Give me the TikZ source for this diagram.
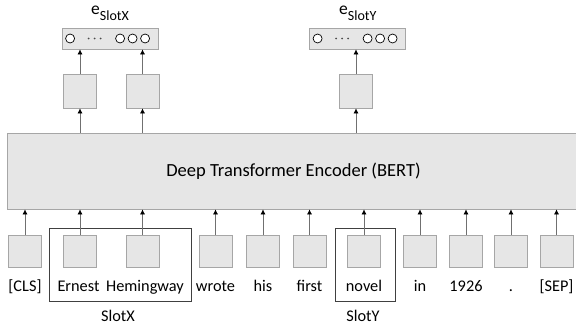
\documentclass[tikz,border=0pt]{standalone}
\usepackage{fontspec}
\setmainfont{Carlito}
\usetikzlibrary{arrows.meta,calc}
\definecolor{boxgray}{HTML}{E6E6E6}
\definecolor{bordgray}{HTML}{A6A6A6}
\definecolor{arrgray}{HTML}{707070}
\definecolor{slotcol}{HTML}{404040}
\tikzset{
  tok/.style={draw=bordgray, fill=boxgray, line width=0.8pt, minimum width=33pt, minimum height=32pt, inner sep=0pt},
  upbox/.style={draw=bordgray, fill=boxgray, line width=0.8pt, minimum width=33pt, minimum height=34pt, inner sep=0pt},
  vecbox/.style={draw=bordgray, fill=boxgray, line width=0.8pt, minimum width=96pt, minimum height=21pt, inner sep=0pt},
  enc/.style={draw=bordgray, fill=boxgray, line width=0.8pt, minimum width=573pt, minimum height=76pt, inner sep=0pt, font=\fontsize{18.5}{22}\selectfont},
  slotbox/.style={draw=slotcol, line width=1pt, inner sep=0pt},
  arr/.style={draw=arrgray, line width=0.6pt, -{Latex[length=5pt,width=5pt,color=black]}},
  lbl/.style={anchor=base, inner sep=0pt, font=\fontsize{16.3}{20}\selectfont},
  circ/.style={draw=black, line width=0.7pt, fill=white},
  dotm/.style={fill=black!70, draw=none},
  elbl/.style={anchor=base west, inner sep=0pt, font=\fontsize{17.5}{20}\selectfont}
}
\newcommand{\vecdots}[1]{%
  \draw[circ] ($(#1.west)+(8.5,0)$) circle (4.5pt);
  \fill[dotm] ($(#1.west)+(27,0)$) circle (0.9pt);
  \fill[dotm] ($(#1.west)+(33,0)$) circle (0.9pt);
  \fill[dotm] ($(#1.west)+(39,0)$) circle (0.9pt);
  \draw[circ] ($(#1.west)+(58.5,0)$) circle (4.5pt);
  \draw[circ] ($(#1.west)+(71,0)$) circle (4.5pt);
  \draw[circ] ($(#1.west)+(83.5,0)$) circle (4.5pt);
}
\begin{document}
\begin{tikzpicture}[x=1pt,y=-1pt]
\useasboundingbox (0,0) rectangle (576,332);
% encoder
\node[enc] (enc) at (293.5,171) {Deep Transformer Encoder (BERT)};
% slot rectangles
\node[slotbox, minimum width=142pt, minimum height=73pt] (sx) at (120,264.5) {};
\node[slotbox, minimum width=60pt, minimum height=73pt] (sy) at (365,264.5) {};
% tokens
\foreach \n/\x/\t in {t1/25/{[CLS]}, t2/80/Ernest, t3/142.5/Hemingway, t4/215.5/wrote, t5/263/his, t6/309.5/first, t7/364/novel, t8/420/in, t9/466/1926, t10/511/., t11/556.5/{[SEP]}}{
  \node[tok] (\n) at (\x,251) {};
  \draw[arr] (\n.north) -- (\n.north |- enc.south);
}
\foreach \n/\x/\t in {t1/25/{[CLS]}, t2/78.5/Ernest, t3/145/Hemingway, t4/215.5/wrote, t5/263/his, t6/309.5/first, t7/364/novel, t8/420/in, t9/466/1926, t10/511/., t11/556.5/{[SEP]}}{
  \node[lbl] (\n l) at (\x,291) {\t};
}
\node[lbl] (slx) at (118,321) {SlotX};
\node[lbl] (sly) at (363,321) {SlotY};
% upper boxes
\node[upbox] (u1) at (80,91) {};
\node[upbox] (u2) at (142.5,91) {};
\node[upbox] (u3) at (356,91) {};
\node[vecbox] (vx) at (110,38.5) {};
\node[vecbox] (vy) at (357.5,38.5) {};
\vecdots{vx}
\vecdots{vy}
\foreach \u/\v in {u1/vx, u2/vx, u3/vy}{
  \draw[arr] (\u.south |- enc.north) -- (\u.south);
  \draw[arr] (\u.north) -- (\u.north |- \v.south);
}
\node[elbl] (ex) at (91,14) {e\raisebox{-6.5pt}{\fontsize{14}{16}\selectfont SlotX}};
\node[elbl] (ey) at (339,14) {e\raisebox{-6.5pt}{\fontsize{14}{16}\selectfont SlotY}};
\end{tikzpicture}
\end{document}
